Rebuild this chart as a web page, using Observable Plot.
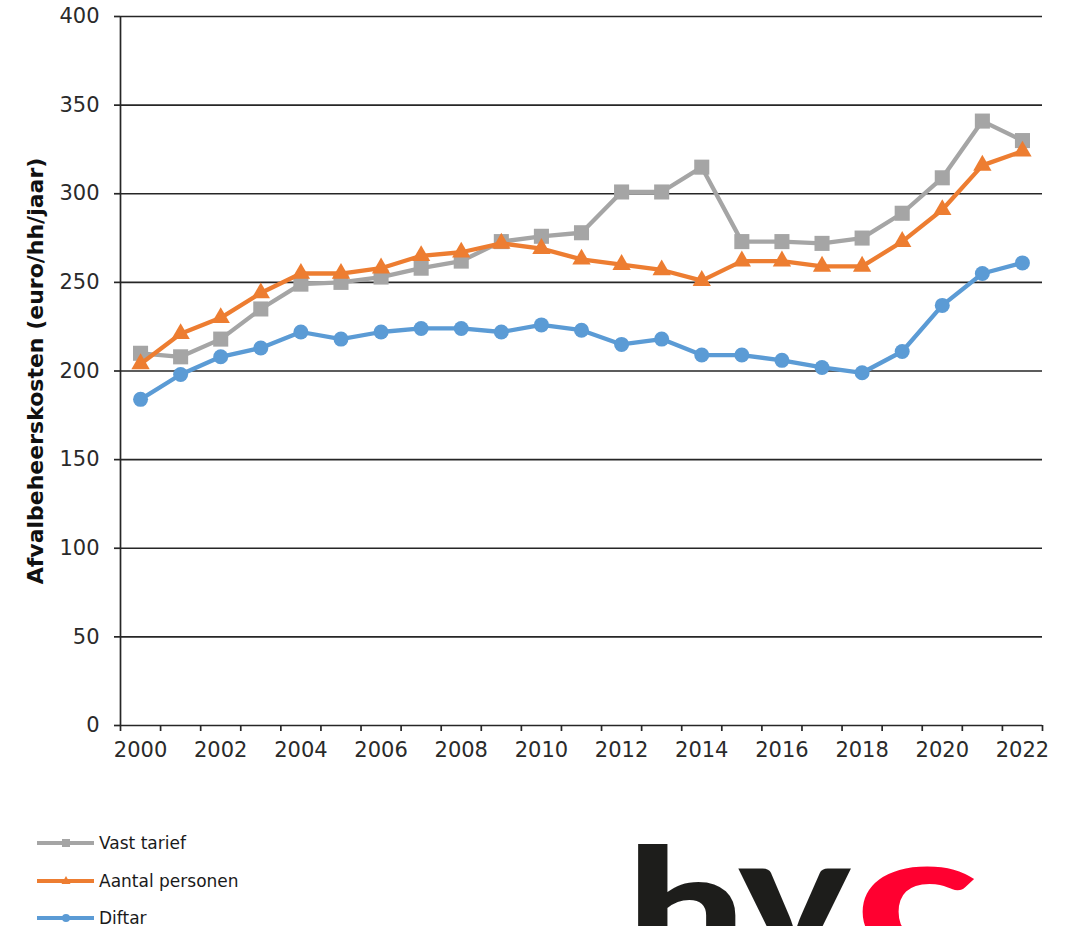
<!DOCTYPE html>
<html><head><meta charset="utf-8">
<script src="https://cdn.jsdelivr.net/npm/d3@7"></script>
<script src="https://cdn.jsdelivr.net/npm/@observablehq/plot@0.6"></script>
<style>
html,body{margin:0;padding:0;background:#fff;}
body{width:1066px;height:926px;overflow:hidden;position:relative;font-family:"DejaVu Sans",Verdana,sans-serif;}
#chart{position:absolute;left:0;top:0;}
.item{position:absolute;left:37px;height:20px;display:flex;align-items:center;font-size:17px;color:#1a1a1a;white-space:nowrap;}
.item svg{margin-right:5px;}
.logo{position:absolute;font-family:Lato,"Open Sans",sans-serif;font-weight:900;line-height:1;white-space:nowrap;transform-origin:0 0;}
</style>
</head><body>
<div id="chart"></div>
<div id="legend"></div>
<div class="logo" style="left:626px;top:820px;font-size:170px;color:#1d1d1b;transform:scaleX(1.25);">h</div>
<div class="logo" style="left:738px;top:805px;font-size:170px;color:#1d1d1b;transform:scaleX(1.25);">v</div>
<div class="logo" style="left:855px;top:805px;font-size:170px;color:#ff0030;transform:scaleX(1.5);">c</div>
<script>
const years = [2000,2001,2002,2003,2004,2005,2006,2007,2008,2009,2010,2011,2012,2013,2014,2015,2016,2017,2018,2019,2020,2021,2022];
const vastTarief = [210,208,218,235,249,250,253,258,262,273,276,278,301,301,315,273,273,272,275,289,309,341,330];
const aantalPersonen = [204,221,230,244,255,255,258,265,267,272,269,263,260,257,251,262,262,259,259,273,291,316,324];
const diftar = [184,198,208,213,222,218,222,224,224,222,226,223,215,218,209,209,206,202,199,211,237,255,261];
const seriesNames = ["Vast tarief","Aantal personen","Diftar"];
const seriesColors = ["#A5A5A5","#ED7D31","#5B9BD5"];
const seriesSymbols = ["square","triangle","circle"];
const yTicks = [0,50,100,150,200,250,300,350,400];
const xLabels = [2000,2002,2004,2006,2008,2010,2012,2014,2016,2018,2020,2022];
const yLabel = "Afvalbeheerskosten (euro/hh/jaar)";

const seriesValues = [vastTarief, aantalPersonen, diftar];
const markR = [8.5, 6.8, 7.5];
const bounds = years.map(y => y - 0.5).concat([years[years.length-1] + 0.5]);

const seriesMarks = [];
seriesNames.forEach((name, i) => {
  const rows = years.map((y, j) => ({year: y, value: seriesValues[i][j], series: name}));
  seriesMarks.push(Plot.line(rows, {x: "year", y: "value", stroke: seriesColors[i], strokeWidth: 4.3}));
  seriesMarks.push(Plot.dot(rows, {x: "year", y: "value", fill: seriesColors[i], symbol: () => seriesSymbols[i], r: markR[i], stroke: "none"}));
});

const chart = Plot.plot({
  width: 1066,
  height: 790,
  marginLeft: 120,
  marginRight: 24,
  marginTop: 16,
  marginBottom: 65,
  style: {fontFamily: "'DejaVu Sans', Verdana, sans-serif", fontSize: "21px", color: "#2a2a2a", background: "#fff"},
  x: {type: "linear", domain: [bounds[0], bounds[bounds.length-1]]},
  y: {domain: [0, 400]},
  symbol: {type: "identity"},
  marks: [
    Plot.ruleY(yTicks, {stroke: "#262626", strokeWidth: 1.7}),
    Plot.ruleX([bounds[0]], {y1: 0, y2: 400, stroke: "#262626", strokeWidth: 1.7}),
    Plot.axisY(yTicks, {tickSize: 6, tickPadding: 15, label: null, stroke: "#262626", strokeWidth: 1.7, fill: "#2a2a2a"}),
    Plot.axisX(bounds, {tickSize: 6, tickFormat: () => "", label: null, stroke: "#262626", strokeWidth: 1.7}),
    Plot.axisX(xLabels, {tickSize: 0, tickPadding: 17, tickFormat: d => String(d), label: null, fill: "#2a2a2a"}),
    Plot.text([yLabel], {frameAnchor: "left", textAnchor: "middle", dx: -85, rotate: -90, fontWeight: "bold", fontSize: 22, fill: "#111"}),
    ...seriesMarks
  ]
});
document.getElementById("chart").appendChild(chart);

// legend
const legend = document.getElementById("legend");
const centers = [843, 881, 918];
seriesNames.forEach((name, i) => {
  const div = document.createElement("div");
  div.className = "item";
  div.style.top = (centers[i] - 10) + "px";
  let marker;
  if (seriesSymbols[i] === "square") marker = `<rect x="25" y="6" width="8" height="8" fill="${seriesColors[i]}"/>`;
  else if (seriesSymbols[i] === "triangle") marker = `<path d="M29 5 L33.5 13 L24.5 13 Z" fill="${seriesColors[i]}"/>`;
  else marker = `<circle cx="29" cy="10" r="4" fill="${seriesColors[i]}"/>`;
  div.innerHTML = `<svg width="57" height="20"><line x1="0" x2="57" y1="10" y2="10" stroke="${seriesColors[i]}" stroke-width="4"/>${marker}</svg><span>${name}</span>`;
  legend.appendChild(div);
});
</script>
</body></html>
